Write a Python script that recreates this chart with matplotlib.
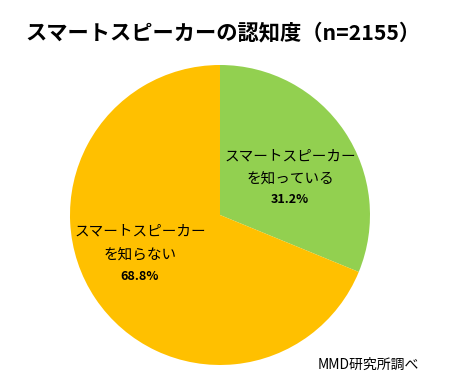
import matplotlib
matplotlib.use("Agg")
import matplotlib.pyplot as plt

plt.rcParams['font.family'] = ['Noto Sans CJK JP', 'DejaVu Sans']

labels = ["スマートスピーカー\nを知っている", "スマートスピーカー\nを知らない"]
shares = [31.2, 68.8]
colors = ["#92D050", "#FFC000"]

fig = plt.figure(figsize=(4.61, 3.92), dpi=100)
ax = fig.add_axes([0.1518, 0.0689, 0.6508, 0.7653])
ax.pie(shares, colors=colors, startangle=90, counterclock=False,
       wedgeprops=dict(linewidth=0))
ax.set_xlim(-1, 1)
ax.set_ylim(-1, 1)
ax.set_aspect('equal')

# label positions inside the pie: x, y of first line, line step
pos = [(0.467, 0.387, 0.143), (-0.533, -0.113, 0.15)]
for lab, s, (x, y, dy) in zip(labels, shares, pos):
    lines = lab.split("\n")
    for i, ln in enumerate(lines):
        ax.text(x, y - i * dy, ln, ha='center', va='center', fontsize=10.5)
    ax.text(x, y - len(lines) * dy, f"{s}%", ha='center', va='center',
            fontsize=9, fontweight='bold')

fig.text(0.054, 0.915, "スマートスピーカーの認知度（n=2155）", fontsize=15.3,
         fontweight='bold', ha='left', va='center')
fig.text(0.69, 0.068, "MMD研究所調べ", fontsize=10, ha='left', va='center')

fig.savefig("out.png", dpi=100)
